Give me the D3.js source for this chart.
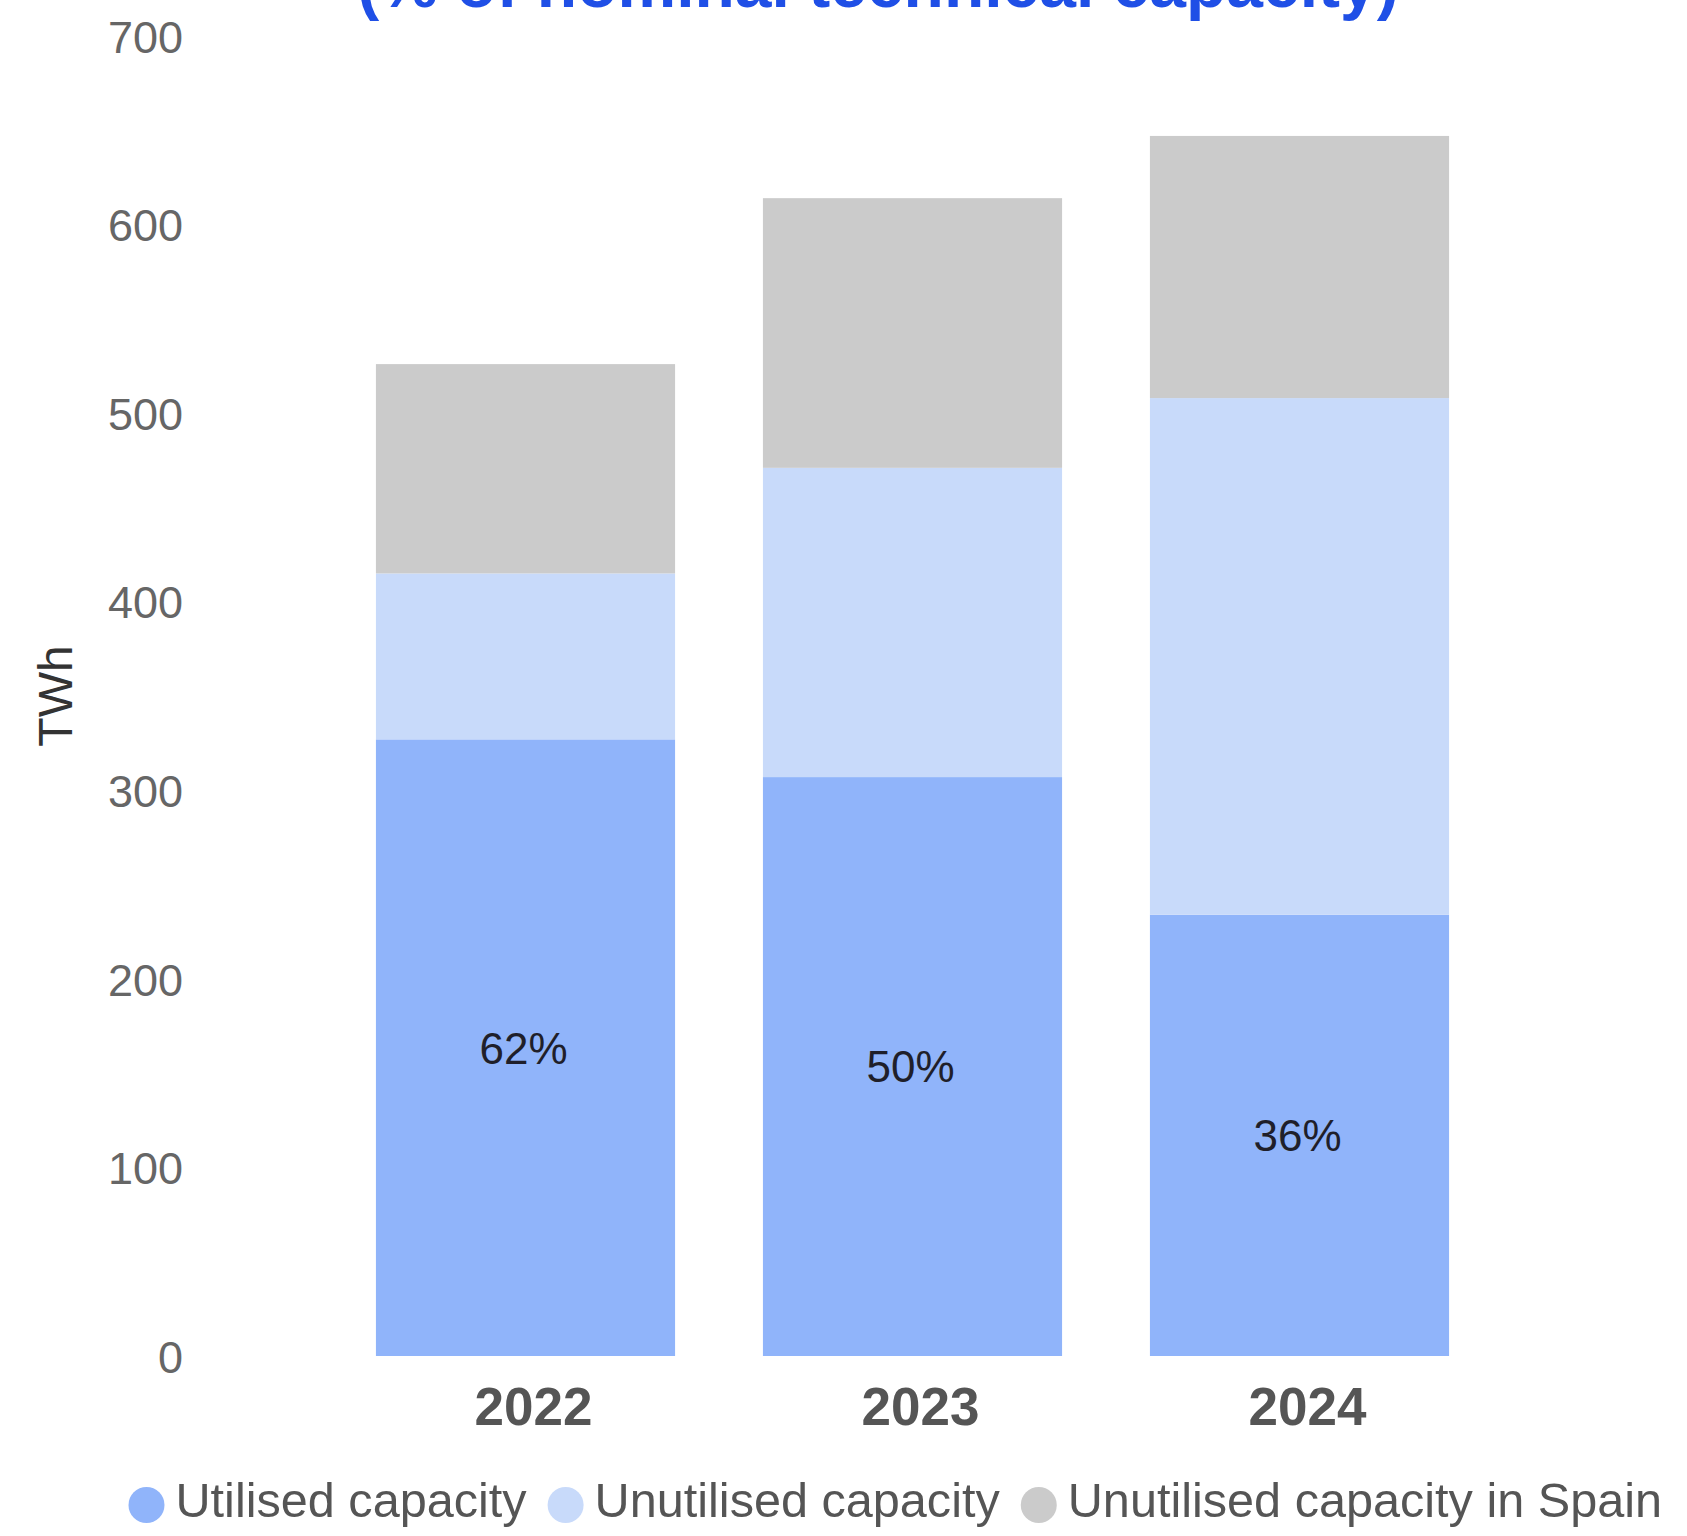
<!DOCTYPE html>
<html>
<head>
<meta charset="utf-8">
<script src="https://cdn.jsdelivr.net/npm/d3@7"></script>
<style>
  html, body { margin: 0; padding: 0; background: #ffffff; }
  svg { display: block; }
</style>
</head>
<body>
<script>
// LNG import capacity, TWh
const years = ["2022", "2023", "2024"];
const utilised = [327, 307, 234];
const unutilised = [88, 164, 274];
const unutilisedSpain = [111, 143, 139];
const seriesNames = ["Utilised capacity", "Unutilised capacity", "Unutilised capacity in Spain"];
const seriesKeys = ["utilised", "unutilised", "spain"];
const seriesColors = ["#90b4fa", "#c8dafa", "#cbcbcb"];
const yTicks = [0, 100, 200, 300, 400, 500, 600, 700];
const titleText = "(% of nominal technical capacity)";
const yTitle = "TWh";

const W = 1687, H = 1536;
const rows = years.map((y, i) => ({
  year: y,
  utilised: utilised[i],
  unutilised: unutilised[i],
  spain: unutilisedSpain[i]
}));

const svg = d3.select("body").append("svg")
  .attr("width", W).attr("height", H)
  .style("font-family", "'Liberation Sans', Arial, sans-serif");

const x = d3.scaleBand()
  .domain(years)
  .range([332, 1493])
  .paddingInner(0.227)
  .paddingOuter(0.1135);

const y = d3.scaleLinear().domain([0, 700]).range([1356, 36]);

const stack = d3.stack().keys(seriesKeys)(rows);
const color = d3.scaleOrdinal().domain(seriesKeys).range(seriesColors);

// Title (upper part runs off the top edge)
svg.append("text")
  .attr("x", 878).attr("y", 7)
  .attr("text-anchor", "middle")
  .attr("font-size", 66).attr("font-weight", "bold")
  .attr("fill", "#1f4fe6")
  .text(titleText);

// Stacked bars
svg.append("g").selectAll("g")
  .data(stack).join("g")
  .attr("fill", d => color(d.key))
  .selectAll("rect")
  .data(d => d).join("rect")
  .attr("x", d => x(d.data.year))
  .attr("width", x.bandwidth())
  .attr("y", d => y(d[1]))
  .attr("height", d => y(d[0]) - y(d[1]));

// Share of utilised capacity in each total
svg.append("g").selectAll("text")
  .data(rows).join("text")
  .attr("x", d => x(d.year) + x.bandwidth() / 2 - 2)
  .attr("y", d => (y(0) + y(d.utilised)) / 2)
  .attr("dy", "0.36em")
  .attr("text-anchor", "middle")
  .attr("font-size", 44)
  .attr("fill", "#1f1f2a")
  .text(d => Math.round(100 * d.utilised / (d.utilised + d.unutilised + d.spain)) + "%");

// Y axis (labels only)
const yAxis = svg.append("g")
  .attr("transform", "translate(183,0)")
  .call(d3.axisLeft(y).tickValues(yTicks).tickSize(0).tickPadding(0));
yAxis.select(".domain").remove();
yAxis.selectAll("text")
  .attr("font-size", 45)
  .attr("font-family", "'Liberation Sans', Arial, sans-serif")
  .attr("fill", "#666666")
  .attr("dy", "0.36em");

// X axis (year labels)
const xAxis = svg.append("g")
  .attr("transform", "translate(8,1425)")
  .call(d3.axisBottom(x).tickSize(0).tickPadding(0));
xAxis.select(".domain").remove();
xAxis.selectAll("text")
  .attr("font-size", 53)
  .attr("font-weight", "bold")
  .attr("font-family", "'Liberation Sans', Arial, sans-serif")
  .attr("fill", "#555555")
  .attr("dy", 0);

// Y axis title
svg.append("text")
  .attr("transform", "translate(72,696) rotate(-90)")
  .attr("text-anchor", "middle")
  .attr("font-size", 48)
  .attr("fill", "#333333")
  .text(yTitle);

// Legend
const legend = svg.append("g");
let cx = 146.5;
seriesNames.forEach((name, i) => {
  legend.append("circle")
    .attr("cx", cx).attr("cy", 1505).attr("r", 18)
    .attr("fill", seriesColors[i]);
  const t = legend.append("text")
    .attr("x", cx + 29).attr("y", 1517)
    .attr("font-size", 48.6)
    .attr("fill", "#555555")
    .text(name);
  const w = t.node().getComputedTextLength();
  cx = cx + 29 + w + 21 + 18;
});
</script>
</body>
</html>
